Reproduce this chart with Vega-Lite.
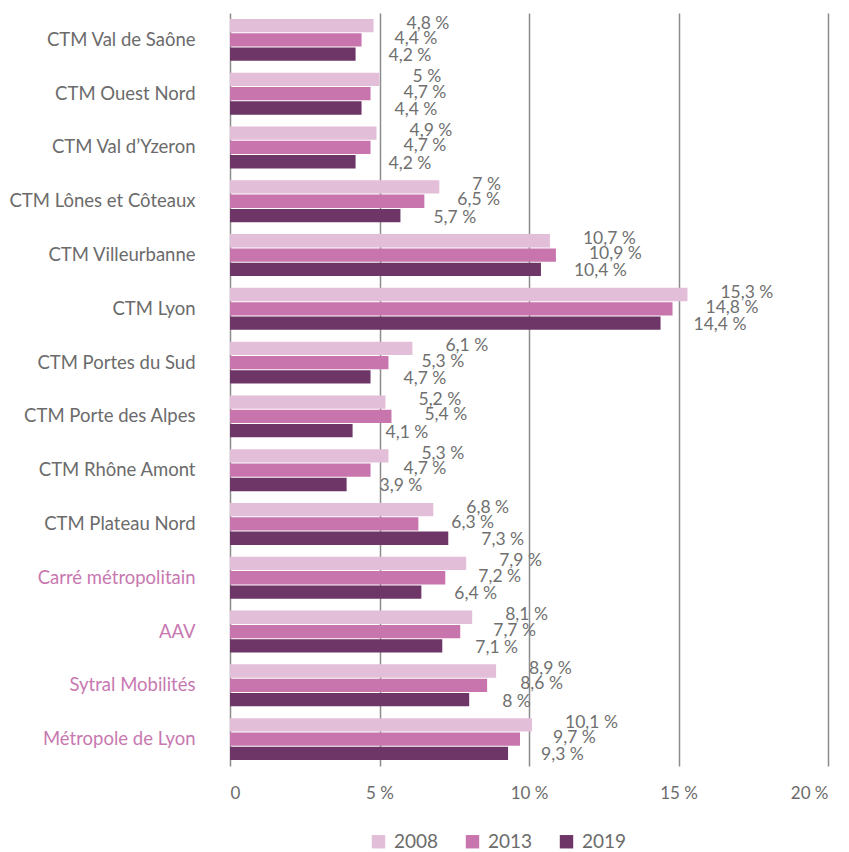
{
  "$schema": "https://vega.github.io/schema/vega-lite/v6.json",
  "autosize": "none",
  "width": 598,
  "height": 753,
  "padding": {"left": 230, "top": 13, "right": 21, "bottom": 86},
  "background": "white",
  "config": {
    "font": "Lato",
    "view": {"stroke": null},
    "axis": {"labelFont": "Lato", "labelColor": "#6b6b6b"},
    "legend": {"labelFont": "Lato"}
  },
  "data": {
    "values": [
      {"zone": "CTM Val de Saône", "annee": "2008", "valeur": 4.8},
      {"zone": "CTM Val de Saône", "annee": "2013", "valeur": 4.4},
      {"zone": "CTM Val de Saône", "annee": "2019", "valeur": 4.2},
      {"zone": "CTM Ouest Nord", "annee": "2008", "valeur": 5},
      {"zone": "CTM Ouest Nord", "annee": "2013", "valeur": 4.7},
      {"zone": "CTM Ouest Nord", "annee": "2019", "valeur": 4.4},
      {"zone": "CTM Val d’Yzeron", "annee": "2008", "valeur": 4.9},
      {"zone": "CTM Val d’Yzeron", "annee": "2013", "valeur": 4.7},
      {"zone": "CTM Val d’Yzeron", "annee": "2019", "valeur": 4.2},
      {"zone": "CTM Lônes et Côteaux", "annee": "2008", "valeur": 7},
      {"zone": "CTM Lônes et Côteaux", "annee": "2013", "valeur": 6.5},
      {"zone": "CTM Lônes et Côteaux", "annee": "2019", "valeur": 5.7},
      {"zone": "CTM Villeurbanne", "annee": "2008", "valeur": 10.7},
      {"zone": "CTM Villeurbanne", "annee": "2013", "valeur": 10.9},
      {"zone": "CTM Villeurbanne", "annee": "2019", "valeur": 10.4},
      {"zone": "CTM Lyon", "annee": "2008", "valeur": 15.3},
      {"zone": "CTM Lyon", "annee": "2013", "valeur": 14.8},
      {"zone": "CTM Lyon", "annee": "2019", "valeur": 14.4},
      {"zone": "CTM Portes du Sud", "annee": "2008", "valeur": 6.1},
      {"zone": "CTM Portes du Sud", "annee": "2013", "valeur": 5.3},
      {"zone": "CTM Portes du Sud", "annee": "2019", "valeur": 4.7},
      {"zone": "CTM Porte des Alpes", "annee": "2008", "valeur": 5.2},
      {"zone": "CTM Porte des Alpes", "annee": "2013", "valeur": 5.4},
      {"zone": "CTM Porte des Alpes", "annee": "2019", "valeur": 4.1},
      {"zone": "CTM Rhône Amont", "annee": "2008", "valeur": 5.3},
      {"zone": "CTM Rhône Amont", "annee": "2013", "valeur": 4.7},
      {"zone": "CTM Rhône Amont", "annee": "2019", "valeur": 3.9},
      {"zone": "CTM Plateau Nord", "annee": "2008", "valeur": 6.8},
      {"zone": "CTM Plateau Nord", "annee": "2013", "valeur": 6.3},
      {"zone": "CTM Plateau Nord", "annee": "2019", "valeur": 7.3},
      {"zone": "Carré métropolitain", "annee": "2008", "valeur": 7.9},
      {"zone": "Carré métropolitain", "annee": "2013", "valeur": 7.2},
      {"zone": "Carré métropolitain", "annee": "2019", "valeur": 6.4},
      {"zone": "AAV", "annee": "2008", "valeur": 8.1},
      {"zone": "AAV", "annee": "2013", "valeur": 7.7},
      {"zone": "AAV", "annee": "2019", "valeur": 7.1},
      {"zone": "Sytral Mobilités", "annee": "2008", "valeur": 8.9},
      {"zone": "Sytral Mobilités", "annee": "2013", "valeur": 8.6},
      {"zone": "Sytral Mobilités", "annee": "2019", "valeur": 8},
      {"zone": "Métropole de Lyon", "annee": "2008", "valeur": 10.1},
      {"zone": "Métropole de Lyon", "annee": "2013", "valeur": 9.7},
      {"zone": "Métropole de Lyon", "annee": "2019", "valeur": 9.3}
    ]
  },
  "transform": [
    {"calculate": "replace(toString(datum.valeur), '.', ',') + ' %'", "as": "etiquette"}
  ],
  "encoding": {
    "y": {
      "field": "zone",
      "type": "nominal",
      "sort": null,
      "scale": {"paddingInner": 0.22, "paddingOuter": 0.11},
      "axis": {
        "title": null,
        "domain": false,
        "ticks": false,
        "labelFontSize": 18.5,
        "labelPadding": 35,
        "labelLimit": 300,
        "labelColor": {"expr": "indexof(['Carré métropolitain','AAV','Sytral Mobilités','Métropole de Lyon'], datum.value) >= 0 ? '#c878b0' : '#6b6b6b'"}
      }
    },
    "yOffset": {
      "field": "annee",
      "type": "nominal",
      "scale": {"paddingInner": 0.07}
    },
    "x": {
      "field": "valeur",
      "type": "quantitative",
      "scale": {"domain": [0, 20], "nice": false},
      "axis": {
        "title": null,
        "values": [0, 5, 10, 15, 20],
        "domain": false,
        "ticks": false,
        "grid": true,
        "gridColor": "#8c8c8c",
        "gridWidth": 1.5,
        "labelFontSize": 17,
        "labelPadding": 19,
        "labelExpr": "datum.value == 0 ? '0' : datum.value + ' %'"
      }
    }
  },
  "layer": [
    {
      "mark": {"type": "bar"},
      "encoding": {
        "color": {
          "field": "annee",
          "type": "nominal",
          "scale": {"domain": ["2008", "2013", "2019"], "range": ["#e3bed9", "#c975ad", "#6e3567"]},
          "legend": {
            "title": null,
            "orient": "none",
            "direction": "horizontal",
            "legendX": 139,
            "legendY": 819,
            "symbolType": "square",
            "symbolSize": 180,
            "symbolStrokeWidth": 0,
            "labelFontSize": 19,
            "labelColor": "#6b6b6b",
            "labelOffset": 6,
            "columnPadding": 24
          }
        }
      }
    },
    {
      "transform": [{"filter": "datum.annee == '2008'"}],
      "mark": {"type": "text", "align": "left", "baseline": "middle", "dx": 33, "dy": -2, "fontSize": 17.5, "color": "#707070"},
      "encoding": {"text": {"field": "etiquette"}}
    },
    {
      "transform": [{"filter": "datum.annee == '2013'"}],
      "mark": {"type": "text", "align": "left", "baseline": "middle", "dx": 33, "dy": -1, "fontSize": 17.5, "color": "#707070"},
      "encoding": {"text": {"field": "etiquette"}}
    },
    {
      "transform": [{"filter": "datum.annee == '2019'"}],
      "mark": {"type": "text", "align": "left", "baseline": "middle", "dx": 33, "dy": 2, "fontSize": 17.5, "color": "#707070"},
      "encoding": {"text": {"field": "etiquette"}}
    }
  ]
}
